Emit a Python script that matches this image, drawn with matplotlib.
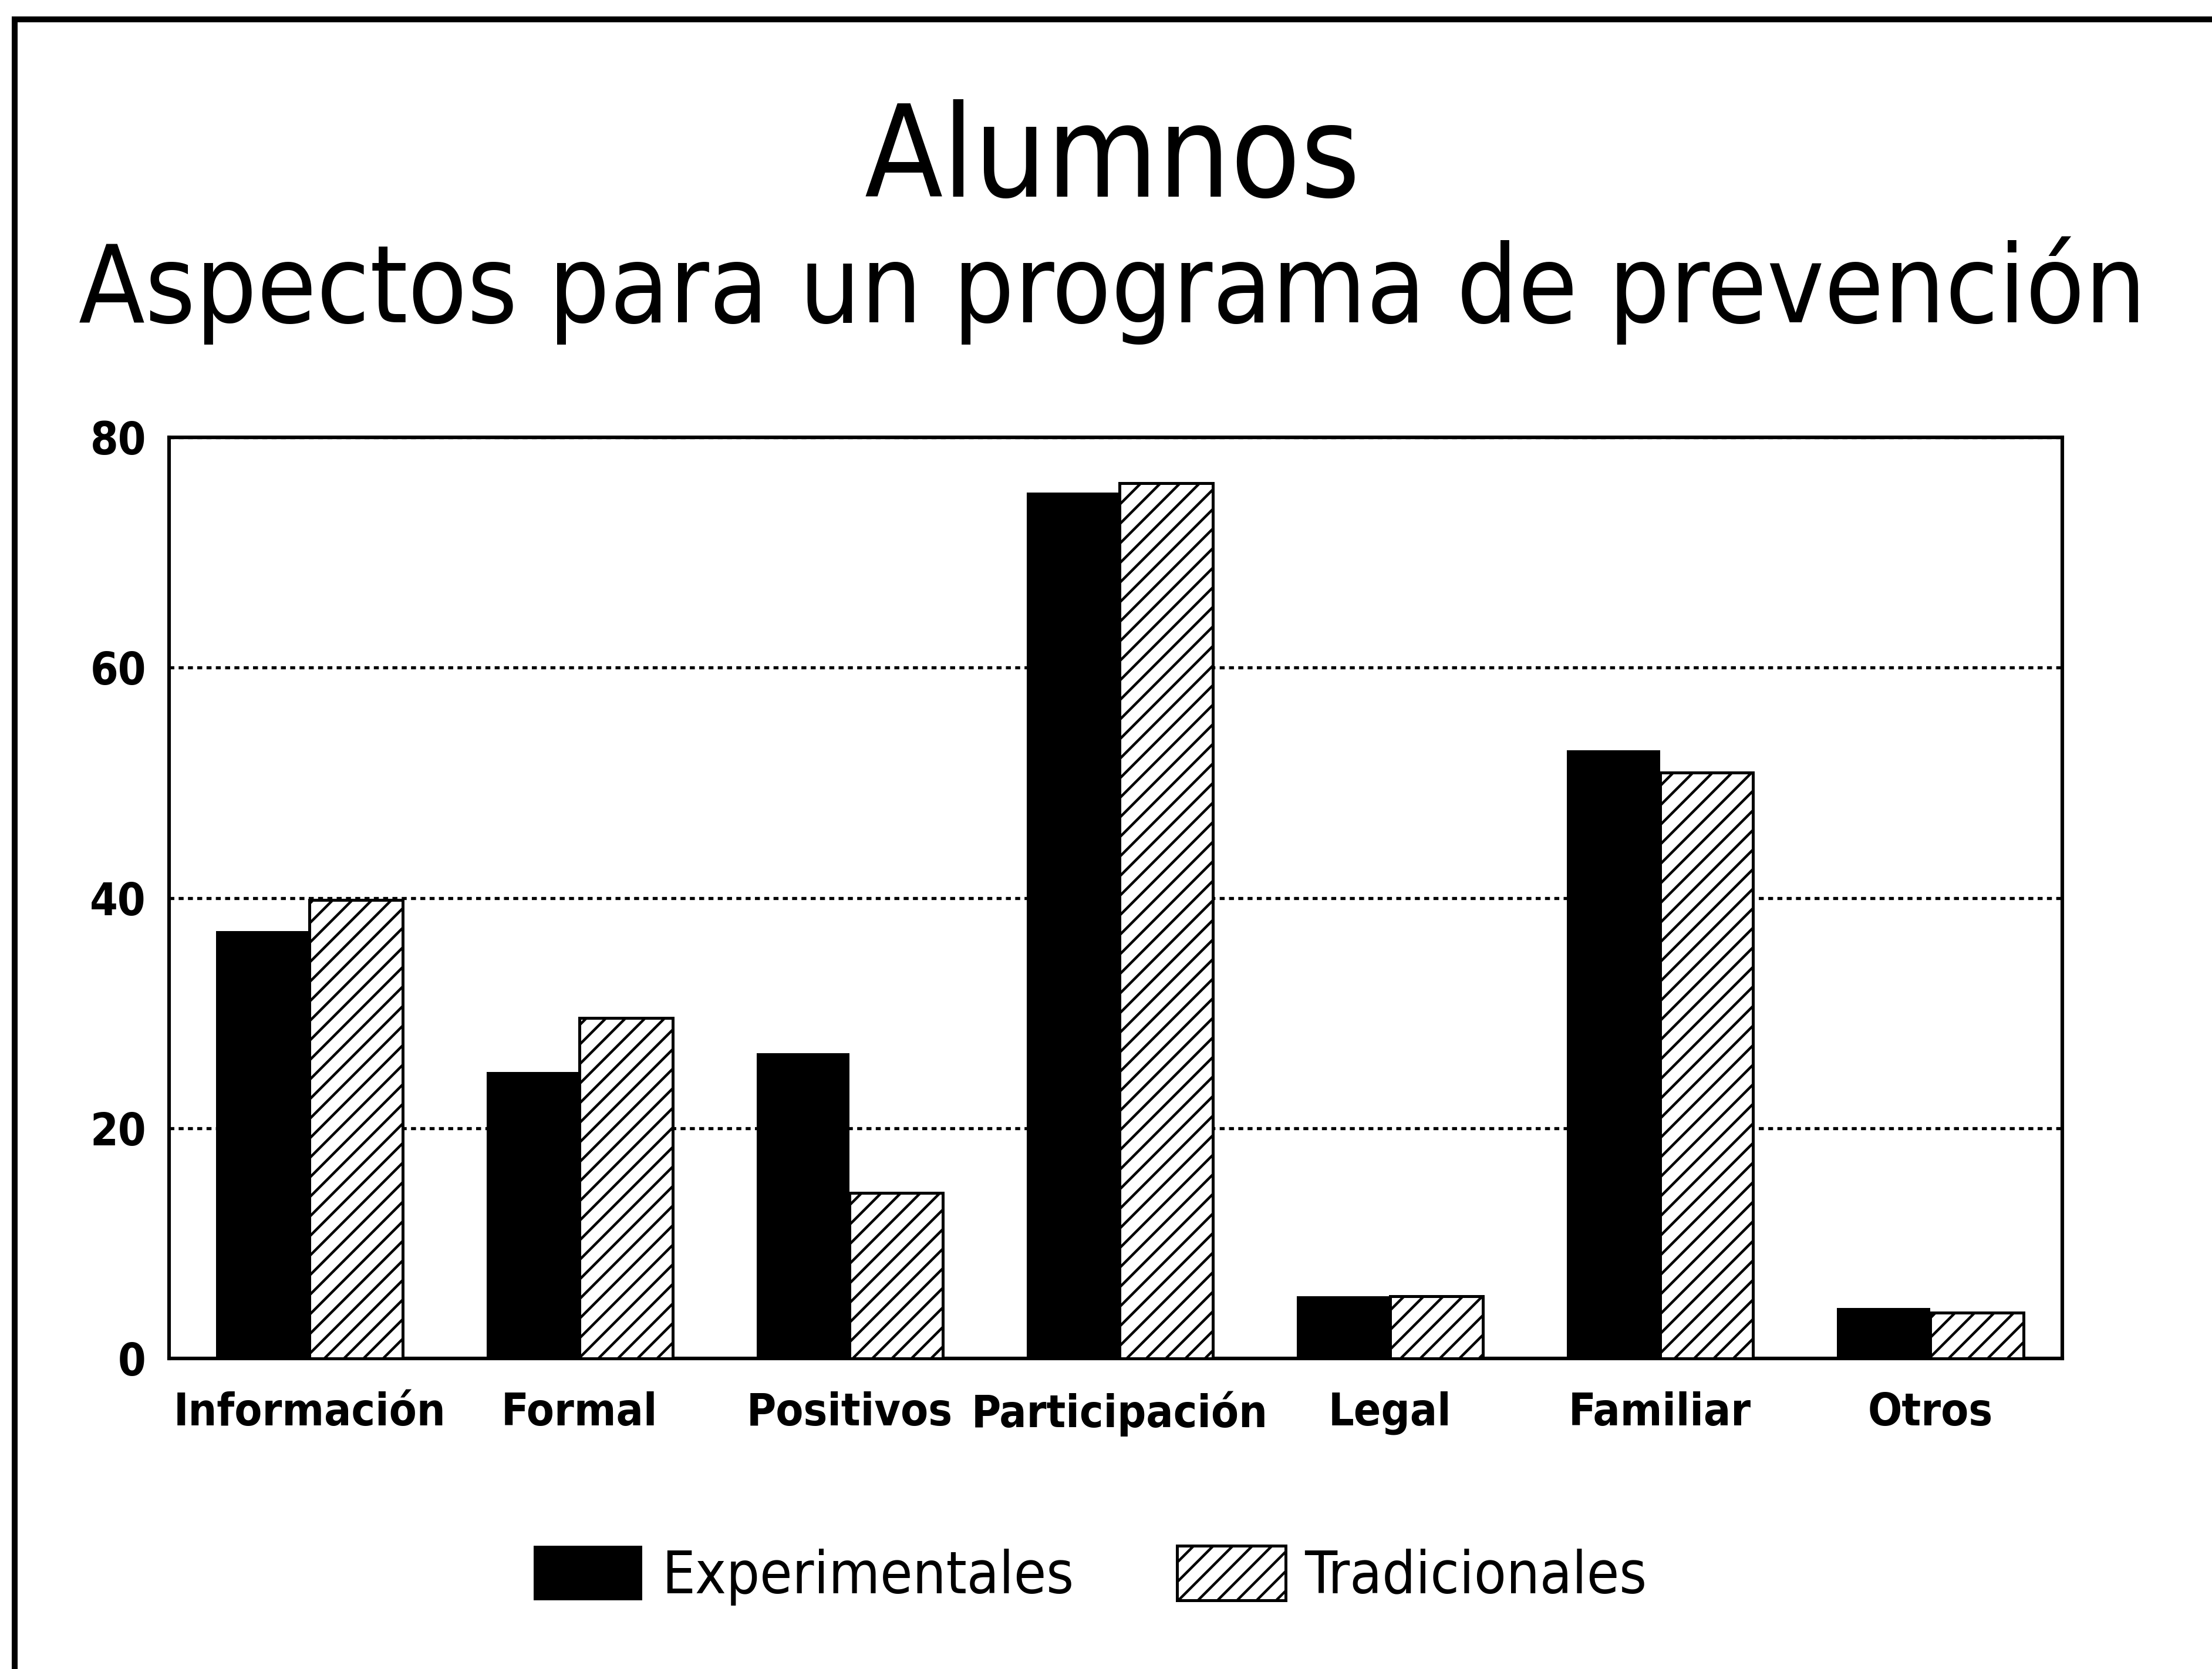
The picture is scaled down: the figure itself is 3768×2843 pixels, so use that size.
import numpy as np
import matplotlib
matplotlib.use("Agg")
import matplotlib.pyplot as plt
from matplotlib.lines import Line2D

# data
categorias = ["Información", "Formal", "Positivos", "Participación",
              "Legal", "Familiar", "Otros"]
experimentales = [37.1, 24.9, 26.5, 75.2, 5.4, 52.8, 4.4]
tradicionales = [39.8, 29.6, 14.4, 76.0, 5.4, 50.9, 4.0]
yticks = [0, 20, 40, 60, 80]

plt.rcParams["hatch.linewidth"] = 1.6
plt.rcParams["font.family"] = "DejaVu Sans"

fig = plt.figure(figsize=(18.84, 14.215), dpi=200, facecolor="white")
ax = fig.add_axes([0.0764, 0.186, 0.856, 0.552])

x = np.arange(len(categorias))
w = 0.345
ax.bar(x - w / 2, experimentales, w, color="black", edgecolor="black",
       linewidth=0, label="Experimentales", zorder=3)
ax.bar(x + w / 2, tradicionales, w, color="white", edgecolor="black",
       hatch="//", linewidth=1.8, label="Tradicionales", zorder=3)

ax.set_xlim(-0.52, 6.49)
ax.set_ylim(0, 80)
ax.set_yticks(yticks)
ax.set_xticks(x)
ax.set_xticklabels(categorias, fontsize=27.5, fontweight="bold",
                   fontstretch="condensed")
ax.set_yticklabels([str(v) for v in yticks], fontsize=27.5,
                   fontweight="bold", fontstretch="condensed")
ax.tick_params(axis="both", length=0)
ax.tick_params(axis="y", pad=14)
ax.tick_params(axis="x", pad=20)
for s in ax.spines.values():
    s.set_linewidth(2.2)
ax.yaxis.grid(True, linestyle=(0, (1.6, 1.4)), linewidth=1.9, color="black")
ax.set_axisbelow(True)

fig.text(0.503, 0.882, "Alumnos", ha="center", va="baseline", fontsize=78,
         fontstretch="condensed")
fig.text(0.503, 0.807, "Aspectos para un programa de prevención",
         ha="center", va="baseline", fontsize=66, fontstretch="condensed")

leg = fig.legend(loc="center", bbox_to_anchor=(0.493, 0.056), ncol=2,
                 frameon=False, handlelength=1.85, handleheight=1.05,
                 handletextpad=0.33, columnspacing=1.75,
                 prop={"size": 36, "stretch": "condensed"})

# scan frame: top and left border lines
fig.add_artist(Line2D([0.0066, 1.0], [0.9885, 0.9885], color="black",
                      linewidth=3.6, transform=fig.transFigure))
fig.add_artist(Line2D([0.0066, 0.0066], [0.0, 0.9885], color="black",
                      linewidth=3.6, transform=fig.transFigure))

fig.savefig("out.png", dpi=200, facecolor="white")
